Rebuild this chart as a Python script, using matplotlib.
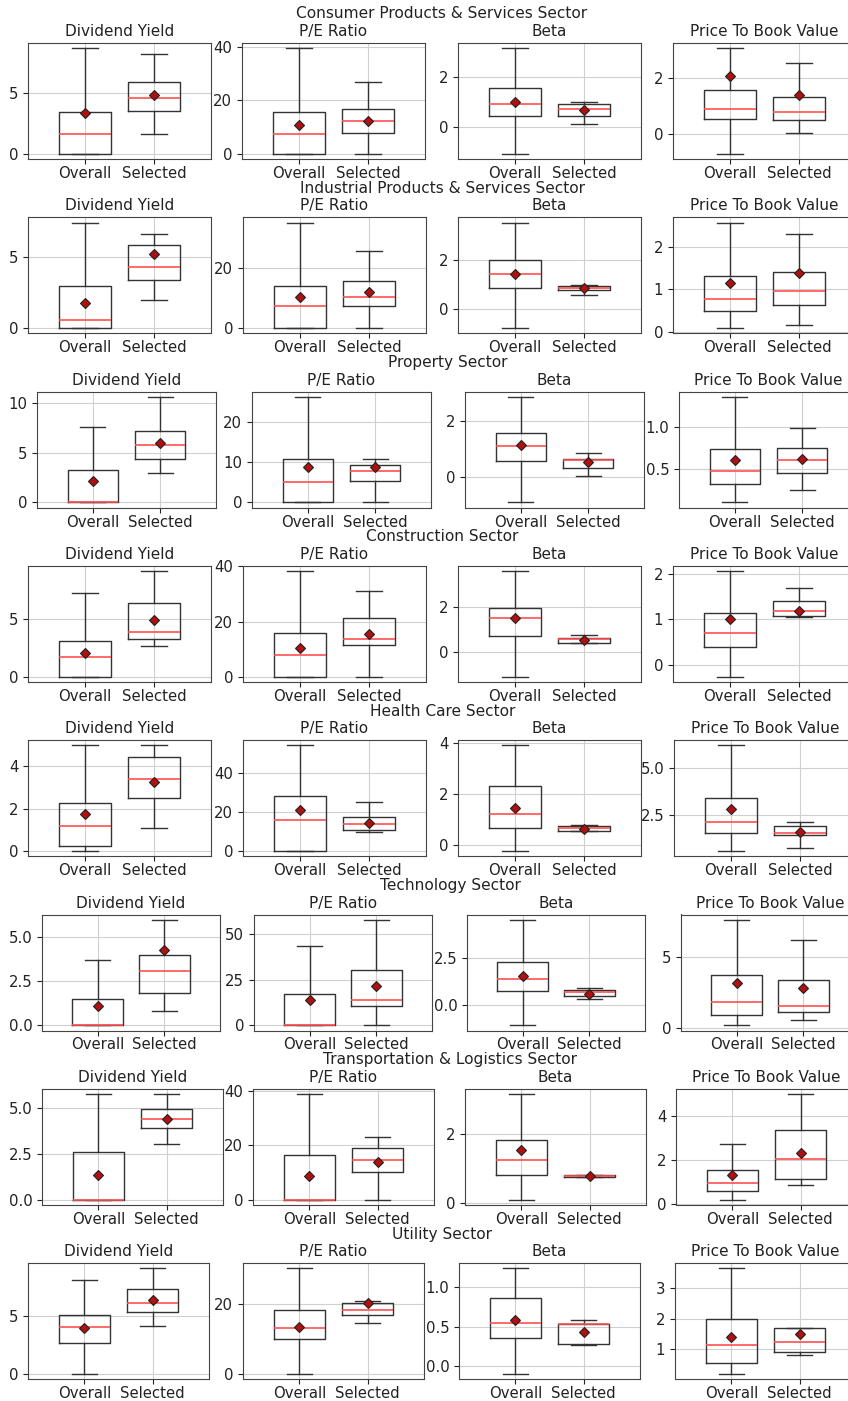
import matplotlib
matplotlib.use("Agg")
import matplotlib.pyplot as plt

plt.rcParams['font.family'] = ['DejaVu Sans']
plt.rcParams['font.size'] = 10.7
plt.rcParams['axes.titlesize'] = 11

sectors = [
    "Consumer Products & Services Sector",
    "Industrial Products & Services Sector",
    "Property Sector",
    "Construction Sector",
    "Health Care Sector",
    "Technology Sector",
    "Transportation & Logistics Sector",
    "Utility Sector",
]
metrics = ["Dividend Yield", "P/E Ratio", "Beta", "Price To Book Value"]
groups = ["Overall", "Selected"]

# one row per sector: [whislo, q1, median, q3, whishi, mean]
div_overall = [
    [0, 0, 1.59, 3.46, 8.71, 3.38],
    [0, 0, 0.56, 2.96, 7.42, 1.74],
    [0, 0, 0, 3.22, 7.63, 2.17],
    [0, 0, 1.72, 3.11, 7.33, 2.03],
    [0, 0.24, 1.20, 2.25, 4.99, 1.73],
    [0, 0, 0, 1.49, 3.72, 1.09],
    [0, 0, 0, 2.63, 5.78, 1.35],
    [0, 2.65, 4.10, 5.15, 8.14, 4.01],
]
div_selected = [
    [1.59, 3.49, 4.59, 5.96, 8.21, 4.81],
    [1.95, 3.38, 4.32, 5.85, 6.62, 5.19],
    [2.98, 4.34, 5.80, 7.22, 10.64, 5.97],
    [2.67, 3.31, 3.92, 6.42, 9.19, 4.91],
    [1.10, 2.52, 3.39, 4.44, 4.99, 3.28],
    [0.82, 1.82, 3.08, 4.00, 5.98, 4.29],
    [3.02, 3.94, 4.44, 4.94, 5.78, 4.44],
    [4.19, 5.35, 6.13, 7.33, 9.16, 6.42],
]
pe_overall = [
    [0, 0, 7.25, 15.75, 39.6, 10.75],
    [0, 0, 7.26, 14.1, 35.3, 10.3],
    [0, 0, 5.1, 10.8, 26.2, 8.8],
    [0, 0, 7.76, 15.9, 38.3, 10.3],
    [0, 0, 16.1, 28.0, 54.2, 20.9],
    [0, 0, 0, 17.2, 43.3, 13.9],
    [0, 0, 0, 16.3, 38.8, 8.7],
    [0, 10.0, 13.2, 18.2, 30.1, 13.5],
]
pe_selected = [
    [0, 7.75, 12.4, 16.9, 27.0, 12.3],
    [0, 7.5, 10.3, 15.6, 25.7, 12.0],
    [0, 5.3, 7.9, 9.3, 10.8, 8.8],
    [0, 11.5, 13.5, 21.2, 31.2, 15.6],
    [9.9, 10.5, 13.7, 17.3, 25.2, 14.1],
    [0, 10.6, 14.1, 30.2, 57.8, 21.3],
    [0, 10.3, 14.4, 18.8, 23.0, 13.9],
    [14.4, 16.7, 18.2, 20.1, 20.8, 20.2],
]
beta_overall = [
    [-1.09, 0.44, 0.90, 1.56, 3.17, 0.98],
    [-0.80, 0.84, 1.43, 2.03, 3.56, 1.43],
    [-0.92, 0.55, 1.10, 1.58, 2.87, 1.13],
    [-1.09, 0.71, 1.49, 1.93, 3.56, 1.49],
    [-0.24, 0.68, 1.21, 2.31, 3.92, 1.44],
    [-1.11, 0.71, 1.37, 2.30, 4.58, 1.53],
    [0.09, 0.81, 1.24, 1.83, 3.18, 1.53],
    [-0.10, 0.35, 0.55, 0.86, 1.24, 0.58],
]
beta_selected = [
    [0.11, 0.44, 0.70, 0.90, 0.98, 0.66],
    [0.58, 0.79, 0.84, 0.92, 0.98, 0.84],
    [0.02, 0.33, 0.59, 0.65, 0.84, 0.52],
    [0.40, 0.40, 0.56, 0.63, 0.76, 0.53],
    [0.56, 0.56, 0.67, 0.73, 0.80, 0.64],
    [0.31, 0.47, 0.66, 0.78, 0.89, 0.60],
    [0.75, 0.76, 0.78, 0.80, 0.82, 0.78],
    [0.265, 0.28, 0.53, 0.53, 0.59, 0.43],
]
pb_overall = [
    [-0.69, 0.56, 0.92, 1.57, 3.07, 2.08],
    [0.09, 0.49, 0.77, 1.32, 2.57, 1.15],
    [0.10, 0.32, 0.47, 0.73, 1.356, 0.60],
    [-0.26, 0.39, 0.71, 1.13, 2.06, 1.00],
    [0.65, 1.58, 2.14, 3.41, 6.15, 2.86],
    [0.17, 0.90, 1.83, 3.69, 7.60, 3.12],
    [0.19, 0.56, 0.93, 1.53, 2.71, 1.30],
    [0.19, 0.56, 1.13, 1.98, 3.65, 1.40],
]
pb_selected = [
    [0.05, 0.52, 0.80, 1.35, 2.53, 1.42],
    [0.17, 0.62, 0.96, 1.40, 2.29, 1.39],
    [0.25, 0.45, 0.61, 0.75, 0.99, 0.62],
    [1.05, 1.07, 1.18, 1.40, 1.68, 1.18],
    [0.81, 1.46, 1.58, 1.93, 2.17, 1.64],
    [0.55, 1.12, 1.55, 3.33, 6.14, 2.76],
    [0.84, 1.13, 2.02, 3.36, 5.01, 2.33],
    [0.80, 0.89, 1.23, 1.71, 1.71, 1.49],
]

metric_data = [
    (div_overall, div_selected),
    (pe_overall, pe_selected),
    (beta_overall, beta_selected),
    (pb_overall, pb_selected),
]

# layout in pixels (figure is 848 x 1401 at 100 dpi)
W, H = 848, 1401
row_lefts = [
    [28, 242, 458, 673],
    [28, 243, 458, 673],
    [37, 252, 465, 679],
    [28, 243, 458, 673],
    [28, 243, 458, 674],
    [42, 254, 467, 681],
    [42, 253, 465, 676],
    [28, 243, 459, 675],
]
row_widths = [183, 183, 179, 183, 183, 178, 181, 181]
row_pitch = 174.3
ax_top0 = 43
ax_h = 116

line_col = '#333333'


def to_stats(vals, label):
    lo, q1, med, q3, hi, mean = vals
    return dict(whislo=lo, q1=q1, med=med, q3=q3, whishi=hi, mean=mean,
                fliers=[], label=label)


fig = plt.figure(figsize=(W / 100, H / 100), dpi=100)

for r, sector in enumerate(sectors):
    top = ax_top0 + r * row_pitch
    for c, metric in enumerate(metrics):
        left = row_lefts[r][c]
        w = row_widths[r]
        ax = fig.add_axes([left / W, 1 - (top + ax_h) / H, w / W, ax_h / H])
        overall, selected = metric_data[c]
        stats = [to_stats(overall[r], groups[0]), to_stats(selected[r], groups[1])]
        ax.bxp(stats, positions=[1, 2], widths=0.75, showmeans=True,
               showfliers=False,
               boxprops=dict(color=line_col, linewidth=1.0),
               whiskerprops=dict(color=line_col, linewidth=1.0),
               capprops=dict(color=line_col, linewidth=1.0),
               medianprops=dict(color='#ff5050', linewidth=1.2),
               meanprops=dict(marker='D', markerfacecolor='#b01010',
                              markeredgecolor='#222222', markersize=5.5,
                              markeredgewidth=0.8))
        ax.set_xlim(0.17, 2.83)
        ax.set_title(metric, color='#222222', pad=5)
        ax.grid(True, color='#d0d0d0', linewidth=0.8)
        ax.set_axisbelow(True)
        for s in ax.spines.values():
            s.set_color('#444444')
        ax.tick_params(colors='#222222')
        ax.tick_params(axis='x', pad=1.5)
    span_l = row_lefts[r][0]
    span_r = row_lefts[r][3] + row_widths[r]
    fig.text((span_l + span_r) / 2 / W, 1 - (14 + r * row_pitch) / H, sector,
             ha='center', va='center', color='#222222', fontsize=11.1)

fig.savefig('out.png', dpi=100)
